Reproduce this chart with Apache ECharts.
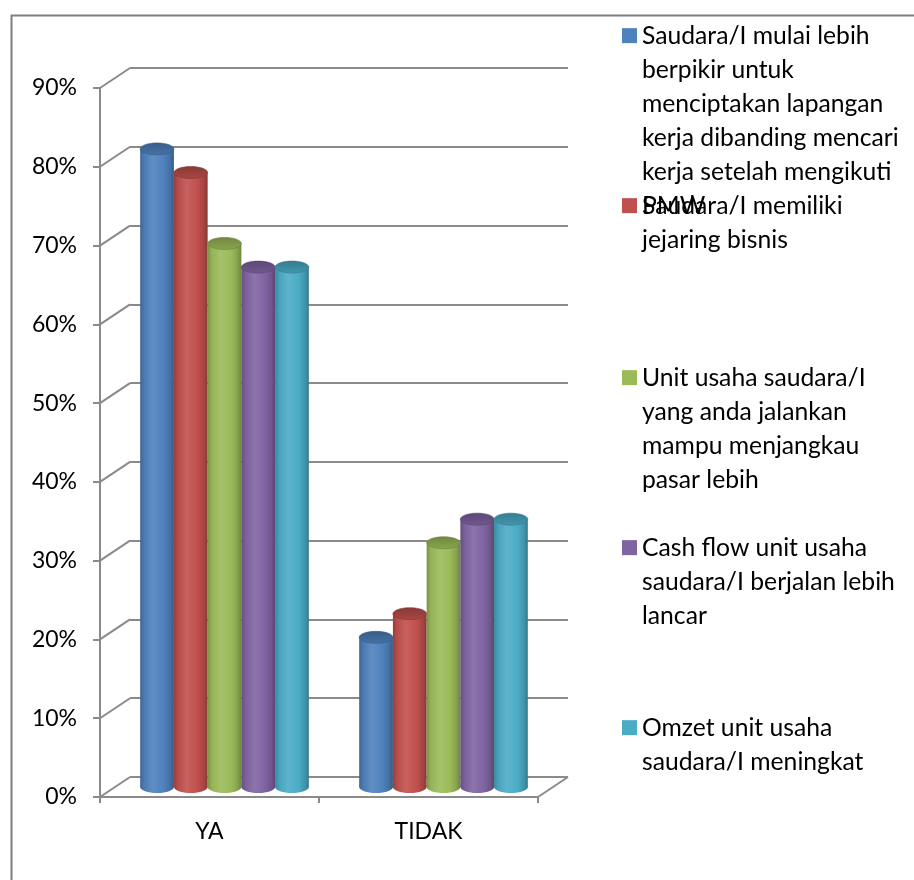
<!DOCTYPE html>
<html>
<head>
<meta charset="utf-8">
<script src="https://cdn.jsdelivr.net/npm/echarts@6/dist/echarts.min.js"></script>
<style>
  html, body { margin: 0; padding: 0; background: #fff; }
  #chart { width: 914px; height: 880px; }
</style>
</head>
<body>
<div id="chart"></div>
<script>
// ---- data ----
const categories = ['YA', 'TIDAK'];
const seriesNames = [
  'Saudara/I mulai lebih berpikir untuk menciptakan lapangan kerja dibanding mencari kerja setelah mengikuti PMW',
  'Saudara/I memiliki jejaring bisnis',
  'Unit usaha saudara/I yang anda jalankan mampu menjangkau pasar lebih',
  'Cash flow unit usaha saudara/I berjalan lebih lancar',
  'Omzet unit usaha saudara/I meningkat'
];
const legendLines = [
  ['Saudara/I mulai lebih', 'berpikir untuk', 'menciptakan lapangan', 'kerja dibanding mencari', 'kerja setelah mengikuti', 'PMW'],
  ['Saudara/I memiliki', 'jejaring bisnis'],
  ['Unit usaha saudara/I', 'yang anda jalankan', 'mampu menjangkau', 'pasar lebih'],
  ['Cash flow unit usaha', 'saudara/I berjalan lebih', 'lancar'],
  ['Omzet unit usaha', 'saudara/I meningkat']
];
const valuesMulai = [0.81, 0.19];
const valuesJejaring = [0.78, 0.22];
const valuesPasar = [0.69, 0.31];
const valuesCashFlow = [0.66, 0.34];
const valuesOmzet = [0.66, 0.34];
const seriesValues = [valuesMulai, valuesJejaring, valuesPasar, valuesCashFlow, valuesOmzet];
const yTicks = [0, 0.1, 0.2, 0.3, 0.4, 0.5, 0.6, 0.7, 0.8, 0.9];

// ---- styling / layout ----
const palette = ['#4F81BD', '#C0504D', '#9BBB59', '#8064A2', '#4BACC6'];
const FONT = 'Lato';
const GRID_COLOR = '#8a8a8a';
const PLOT = { left: 100, top: 88, width: 438, height: 709 };
const DEPTH_X = 30, DEPTH_Y = 20;
const BAR_RATIO = 0.154;
const ELLIPSE_RY = 6;
const LEGEND_FONT = 24.7;
const LEGEND_LINE = 34;
const legendIconCenters = [31, 201, 373, 543, 723];

function shade(hex, f) {
  const n = parseInt(hex.slice(1), 16);
  let r = (n >> 16) & 255, g = (n >> 8) & 255, b = n & 255;
  const mix = (c) => f >= 0 ? Math.round(c + (255 - c) * f) : Math.round(c * (1 + f));
  return 'rgb(' + mix(r) + ',' + mix(g) + ',' + mix(b) + ')';
}

function sideGradient(color) {
  return new echarts.graphic.LinearGradient(0, 0, 1, 0, [
    { offset: 0, color: shade(color, -0.22) },
    { offset: 0.12, color: shade(color, -0.05) },
    { offset: 0.38, color: shade(color, 0.1) },
    { offset: 0.7, color: shade(color, 0.0) },
    { offset: 0.9, color: shade(color, -0.15) },
    { offset: 1, color: shade(color, -0.3) }
  ]);
}

function topGradient(color) {
  return new echarts.graphic.LinearGradient(0, 0, 0, 1, [
    { offset: 0, color: shade(color, -0.28) },
    { offset: 1, color: shade(color, -0.12) }
  ]);
}

function gridAt(dx, dy) {
  return { left: PLOT.left + dx, top: PLOT.top - dy, width: PLOT.width, height: PLOT.height, containLabel: false };
}

// cylinder bars drawn on the mid-depth grid
function cylinderRenderer(seriesIdx, color) {
  const n = seriesValues.length;
  return function (params, api) {
    const cat = api.value(0);
    const val = api.value(1);
    const top = api.coord([cat, val]);
    const base = api.coord([cat, 0]);
    const band = api.size([1, 0])[0];
    const w = band * BAR_RATIO;
    const cx = top[0] + (seriesIdx - (n - 1) / 2) * w;
    const x0 = cx - w / 2;
    return {
      type: 'group',
      children: [
        { type: 'ellipse', shape: { cx: cx, cy: base[1], rx: w / 2, ry: ELLIPSE_RY }, style: { fill: sideGradient(color) } },
        { type: 'rect', shape: { x: x0, y: top[1], width: w, height: base[1] - top[1] }, style: { fill: sideGradient(color) } },
        { type: 'ellipse', shape: { cx: cx, cy: top[1], rx: w / 2, ry: ELLIPSE_RY }, style: { fill: topGradient(color), stroke: shade(color, -0.3), lineWidth: 0.6 } }
      ]
    };
  };
}

// slanted side-wall lines joining the front axis to the back wall, plus the floor edge on the right
function wallRenderer(params, api) {
  const v = api.value(0);
  const y = api.coord([0, v])[1];
  const cs = params.coordSys;
  const children = [
    { type: 'line', shape: { x1: cs.x, y1: y, x2: cs.x + DEPTH_X, y2: y - DEPTH_Y }, style: { stroke: GRID_COLOR, lineWidth: 2 } }
  ];
  if (v === 0) {
    children.push({ type: 'line', shape: { x1: cs.x + cs.width, y1: y, x2: cs.x + cs.width + DEPTH_X, y2: y - DEPTH_Y }, style: { stroke: GRID_COLOR, lineWidth: 2 } });
  }
  return { type: 'group', children: children };
}

// legend text: leading blank lines keep the swatch level with the first line
function legendText(lines) {
  return '\n'.repeat(lines.length - 1) + lines.join('\n');
}

const chart = echarts.init(document.getElementById('chart'), null, { renderer: 'canvas' });

const yBase = { type: 'value', min: 0, max: 0.9, interval: 0.1 };

const series = [
  {
    type: 'custom', name: 'wall', xAxisIndex: 0, yAxisIndex: 0, silent: true, z: 1,
    data: yTicks.map(v => [v]),
    encode: { y: 0 },
    renderItem: wallRenderer
  }
];
seriesValues.forEach((vals, i) => {
  series.push({
    type: 'custom',
    name: seriesNames[i],
    xAxisIndex: 2, yAxisIndex: 2,
    z: 3,
    itemStyle: { color: palette[i] },
    data: vals.map((v, c) => [c, v]),
    encode: { x: 0, y: 1 },
    renderItem: cylinderRenderer(i, palette[i])
  });
});

const option = {
  backgroundColor: '#ffffff',
  animation: false,
  graphic: [
    { type: 'rect', left: 9, top: 13, shape: { width: 1000, height: 1000 }, style: { fill: 'none', stroke: '#7f7f7f', lineWidth: 2 }, silent: true, z: -1 }
  ],
  grid: [gridAt(0, 0), gridAt(DEPTH_X, DEPTH_Y), gridAt(DEPTH_X / 2, DEPTH_Y / 2)],
  xAxis: [
    {
      type: 'category', gridIndex: 0, data: categories, boundaryGap: true,
      axisLine: { lineStyle: { color: GRID_COLOR, width: 2 } },
      axisTick: { show: true, length: 6, lineStyle: { color: GRID_COLOR, width: 2 } },
      axisLabel: { color: '#000', fontFamily: FONT, fontSize: 23, margin: 23 },
      splitLine: { show: false }
    },
    { type: 'category', gridIndex: 1, data: categories, show: false },
    { type: 'category', gridIndex: 2, data: categories, show: false }
  ],
  yAxis: [
    Object.assign({}, yBase, {
      gridIndex: 0,
      axisLine: { show: true, lineStyle: { color: GRID_COLOR, width: 2 } },
      axisTick: { show: true, length: 7, lineStyle: { color: GRID_COLOR, width: 2 } },
      axisLabel: { color: '#000', fontFamily: FONT, fontSize: 23, margin: 23, formatter: v => Math.round(v * 100) + '%' },
      splitLine: { show: false }
    }),
    Object.assign({}, yBase, {
      gridIndex: 1,
      axisLine: { show: false }, axisTick: { show: false }, axisLabel: { show: false },
      splitLine: { show: true, lineStyle: { color: GRID_COLOR, width: 2 } }
    }),
    Object.assign({}, yBase, { gridIndex: 2, show: false, splitLine: { show: false } })
  ],
  legend: seriesNames.map((name, i) => ({
    data: [name],
    orient: 'vertical',
    left: 622,
    top: legendIconCenters[i] - (legendLines[i].length - 1) * LEGEND_LINE - LEGEND_FONT / 2,
    padding: 0,
    icon: 'rect',
    itemWidth: 15,
    itemHeight: 15,
    selectedMode: false,
    formatter: () => legendText(legendLines[i]),
    textStyle: { color: '#000', fontFamily: FONT, fontSize: LEGEND_FONT, lineHeight: LEGEND_LINE }
  })),
  series: series
};

chart.setOption(option);
</script>
</body>
</html>
